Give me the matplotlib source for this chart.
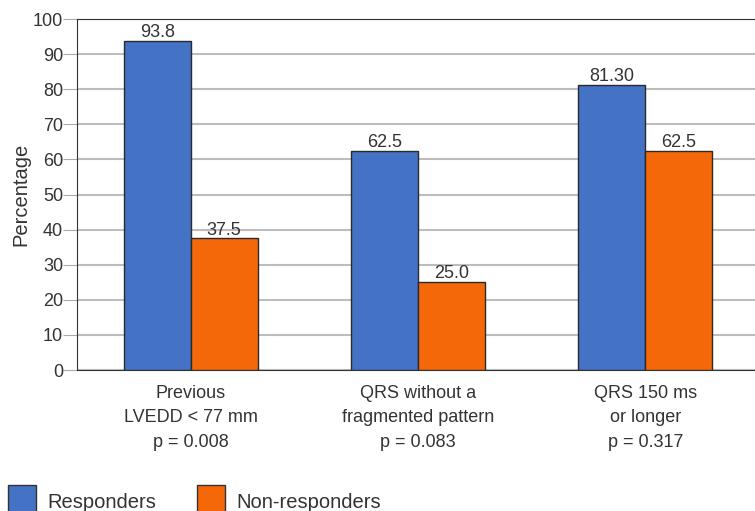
import numpy as np
import matplotlib.pyplot as plt
from matplotlib.patches import Rectangle

plt.rcParams['font.family'] = ['Liberation Sans', 'DejaVu Sans']

# Données
categories = ["Previous\nLVEDD < 77 mm\np = 0.008",
              "QRS without a\nfragmented pattern\np = 0.083",
              "QRS 150 ms\nor longer\np = 0.317"]
responders = [93.8, 62.5, 81.3]
non_responders = [37.5, 25.0, 62.5]
resp_labels = ["93.8", "62.5", "81.30"]
nonresp_labels = ["37.5", "25.0", "62.5"]
series_names = ["Responders", "Non-responders"]

blue = "#4472c4"
orange = "#f5680a"
txt = "#333333"
W, H = 755, 511

fig = plt.figure(figsize=(W / 100, H / 100), dpi=100)
ax = fig.add_axes([77 / W, 141 / H, 682 / W, 351 / H])

x = np.arange(len(categories))
w = 0.295
b1 = ax.bar(x - w / 2, responders, w, color=blue, edgecolor="#2a2a2a", linewidth=1, zorder=3)
b2 = ax.bar(x + w / 2, non_responders, w, color=orange, edgecolor="#2a2a2a", linewidth=1, zorder=3)

for bars, labs in ((b1, resp_labels), (b2, nonresp_labels)):
    for b, lab in zip(bars, labs):
        ax.text(b.get_x() + b.get_width() / 2, b.get_height() + 1.1, lab,
                ha="center", va="baseline", fontsize=13, color=txt)

ax.set_xlim(-0.5, 2.5)
ax.set_ylim(0, 100)
ax.set_yticks(range(0, 101, 10))
ax.yaxis.grid(True, color="#bdbdbd", linewidth=1.5, zorder=0)
ax.set_xticks(x)
ax.set_xticklabels(categories, fontsize=13, color=txt, linespacing=1.55)
ax.tick_params(axis="x", length=0, pad=11)
ax.tick_params(axis="y", length=10, color="#aaaaaa", labelsize=13, labelcolor=txt, pad=0)
ax.set_ylabel("Percentage", fontsize=14.5, color=txt, labelpad=2)

for s in ("left", "top", "bottom"):
    ax.spines[s].set_color("#333333")
ax.spines["right"].set_visible(False)

# légende manuelle (coordonnées pixels)
for (px, tx), col, name in zip(((8, 47), (197, 236)), (blue, orange), series_names):
    fig.patches.append(Rectangle((px / W, -4 / H), 28 / W, 30 / H, transform=fig.transFigure,
                                 facecolor=col, edgecolor="#333333", linewidth=1))
    fig.text(tx / W, 3 / H, name, fontsize=14.5, color=txt, ha="left", va="baseline")

fig.savefig("out.png", dpi=100)
